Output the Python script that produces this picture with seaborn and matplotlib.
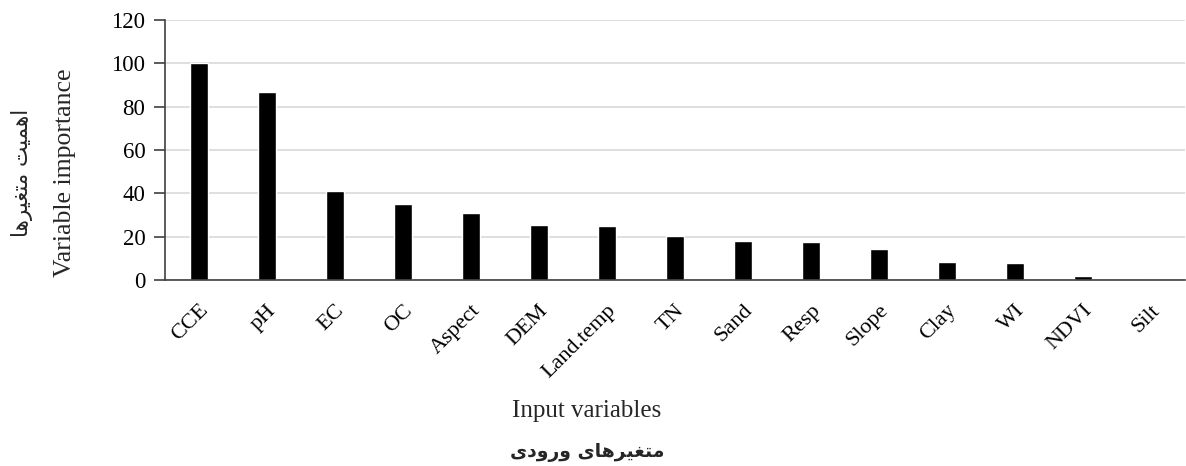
import matplotlib
matplotlib.use("Agg")
import matplotlib.pyplot as plt
import seaborn as sns
import pandas as pd

# data
variables = ['CCE', 'pH', 'EC', 'OC', 'Aspect', 'DEM', 'Land.temp', 'TN',
             'Sand', 'Resp', 'Slope', 'Clay', 'WI', 'NDVI', 'Silt']
importance = [100, 87, 41, 35, 30.8, 25.4, 24.8, 20.2,
              17.9, 17.4, 14.5, 8.2, 8.1, 2.1, 0]
y_ticks = [0, 20, 40, 60, 80, 100, 120]

ylabel_en = 'Variable importance'
ylabel_fa = 'اهمیت متغیرها'
xlabel_en = 'Input variables'
xlabel_fa = 'متغیرهای ورودی'

# presentation forms: isolated, final, initial, medial
FORMS = {
    'ا': ('\uFE8D', '\uFE8E', None, None),
    'د': ('\uFEA9', '\uFEAA', None, None),
    'ر': ('\uFEAD', '\uFEAE', None, None),
    'و': ('\uFEED', '\uFEEE', None, None),
    'ه': ('\uFEE9', '\uFEEA', '\uFEEB', '\uFEEC'),
    'م': ('\uFEE1', '\uFEE2', '\uFEE3', '\uFEE4'),
    'ت': ('\uFE95', '\uFE96', '\uFE97', '\uFE98'),
    'غ': ('\uFECD', '\uFECE', '\uFECF', '\uFED0'),
    'ی': ('\uFEEF', '\uFEF0', '\uFEF3', '\uFEF4'),
}


def shape_fa(text):
    """Join Persian letters and put them in visual order (matplotlib has no shaping)."""
    out = []
    for i, ch in enumerate(text):
        if ch not in FORMS:
            out.append(ch)
            continue
        prev = text[i - 1] if i > 0 else ''
        nxt = text[i + 1] if i + 1 < len(text) else ''
        join_prev = prev in FORMS and FORMS[prev][2] is not None
        join_next = FORMS[ch][2] is not None and nxt in FORMS
        iso, fin, ini, med = FORMS[ch]
        if join_prev and join_next:
            out.append(med)
        elif join_prev:
            out.append(fin)
        elif join_next:
            out.append(ini)
        else:
            out.append(iso)
    return ''.join(out)[::-1]


df = pd.DataFrame({'variable': variables, 'importance': importance})

sns.set_theme(style='white')
plt.rcParams['font.family'] = ['Liberation Serif', 'DejaVu Serif']

fig = plt.figure(figsize=(11.86, 4.66), dpi=100)
ax = fig.add_axes([0.139, 0.399, 0.860, 0.558])

sns.barplot(data=df, x='variable', y='importance', color='black',
            width=0.27, saturation=1, ax=ax)

ax.set_ylim(0, 120)
ax.set_yticks(y_ticks)
ax.set_xlim(-0.5, len(variables) - 0.5)
ax.yaxis.grid(True, color='#d9d9d9', linewidth=1.2)
ax.set_axisbelow(True)

for side in ['top', 'right']:
    ax.spines[side].set_visible(False)
ax.spines['left'].set_color('#404040')
ax.spines['bottom'].set_color('#404040')
ax.spines['left'].set_linewidth(1.2)
ax.spines['bottom'].set_linewidth(1.2)

ax.tick_params(axis='y', which='major', left=True, length=8, width=1.2,
               color='#404040', labelsize=16.5, labelcolor='black', pad=6)
ax.tick_params(axis='x', which='major', bottom=False, labelsize=16,
               labelcolor='black', pad=9)
plt.setp(ax.get_xticklabels(), rotation=45, ha='right', rotation_mode='anchor')

ax.set_xlabel('')
ax.set_ylabel('')

fig.text(65 / 1186, 1 - 173 / 466, ylabel_en, rotation=90, fontsize=18.5,
         ha='center', va='center')
fig.text(22 / 1186, 1 - 173 / 466, shape_fa(ylabel_fa), rotation=90,
         fontsize=15.5, ha='center', va='center', family=['DejaVu Sans'])
fig.text(587 / 1186, 1 - 411 / 466, xlabel_en, fontsize=18,
         ha='center', va='center')
fig.text(587 / 1186, 1 - 452 / 466, shape_fa(xlabel_fa), fontsize=13.5,
         fontweight='bold', ha='center', va='center', family=['DejaVu Sans'])

plt.savefig('out.png', dpi=100)
